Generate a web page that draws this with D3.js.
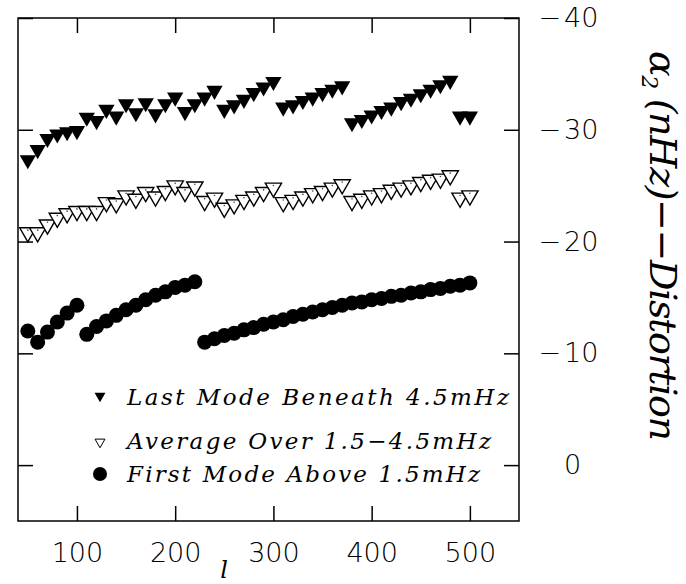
<!DOCTYPE html>
<html>
<head>
<meta charset="utf-8">
<script src="https://cdn.jsdelivr.net/npm/d3@7"></script>
<style>
  html, body { margin: 0; padding: 0; background: #fff; }
  svg { display: block; }
</style>
</head>
<body>
<svg id="chart" width="686" height="584"></svg>
<script>
// degree l for the triangle series
const lTri = [50, 60, 70, 80, 90, 100, 110, 120, 130, 140, 150, 160, 170, 180, 190, 200,
  210, 220, 230, 240, 250, 260, 270, 280, 290, 300, 310, 320, 330, 340, 350, 360, 370,
  380, 390, 400, 410, 420, 430, 440, 450, 460, 470, 480, 490, 500];

const lastMode = [-27.1, -28.0, -29.0, -29.4, -29.6, -29.7, -30.9, -30.6, -31.6, -31.0,
  -32.1, -31.3, -32.2, -31.2, -32.1, -32.7, -31.4, -32.1, -32.7, -33.3, -31.6, -32.0,
  -32.5, -33.1, -33.6, -34.1, -31.8, -32.0, -32.4, -32.7, -33.1, -33.4, -33.7, -30.4,
  -30.7, -31.1, -31.5, -31.8, -32.3, -32.6, -33.0, -33.4, -33.8, -34.2, -31.0, -31.0];

const average = [-20.6, -20.6, -21.3, -21.9, -22.3, -22.5, -22.5, -22.5, -23.3, -23.2,
  -23.9, -23.6, -24.2, -23.8, -24.3, -24.8, -24.2, -24.7, -23.4, -23.7, -22.8, -23.1,
  -23.5, -23.8, -24.2, -24.6, -23.3, -23.5, -23.8, -24.1, -24.3, -24.6, -24.9, -23.4,
  -23.6, -23.9, -24.1, -24.4, -24.6, -24.8, -25.1, -25.3, -25.4, -25.7, -23.7, -23.9];

const lFirst = [50, 60, 70, 80, 90, 100, 110, 120, 130, 140, 150, 160, 170, 180, 190,
  200, 210, 220, 230, 240, 250, 260, 270, 280, 290, 300, 310, 320, 330, 340, 350, 360,
  370, 380, 390, 400, 410, 420, 430, 440, 450, 460, 470, 480, 490, 500];

const firstMode = [-12.0, -11.0, -11.9, -12.8, -13.6, -14.3, -11.7, -12.4, -12.9, -13.4,
  -13.9, -14.3, -14.8, -15.2, -15.5, -15.9, -16.1, -16.4, -11.0, -11.3, -11.6, -11.8,
  -12.1, -12.3, -12.6, -12.8, -13.0, -13.3, -13.5, -13.7, -13.9, -14.1, -14.3, -14.5,
  -14.6, -14.8, -14.9, -15.1, -15.2, -15.4, -15.5, -15.7, -15.8, -16.0, -16.1, -16.3];

const xTicks = [100, 200, 300, 400, 500];
const yTicks = [-40, -30, -20, -10, 0];

const legendLabels = [
  'Last Mode Beneath 4.5mHz',
  'Average Over 1.5\u22124.5mHz',
  'First Mode Above 1.5mHz'
];

const svg = d3.select('#chart');
const plotL = 18, plotT = 18, plotR = 519, plotB = 521;

const x = d3.scaleLinear().domain([40, 550]).range([plotL, plotR]);
const y = d3.scaleLinear().domain([5, -40]).range([plotB, plotT]);

const tickFont = '"DejaVu Sans", sans-serif';
const serif = '"DejaVu Serif", "Liberation Serif", serif';

// inward ticks on all four sides
function styleAxis(g) {
  g.select('.domain').remove();
  g.selectAll('.tick line').attr('stroke', '#000').attr('stroke-width', 1.5);
  g.attr('font-family', tickFont).attr('font-size', 27).attr('font-weight', 200);
  g.selectAll('.tick text').attr('fill', '#000');
}

svg.append('g')
  .attr('transform', `translate(0,${plotB})`)
  .call(d3.axisBottom(x).tickValues(xTicks).tickSize(-15).tickPadding(22).tickFormat(d3.format('d')))
  .call(styleAxis);

svg.append('g')
  .attr('transform', `translate(0,${plotT})`)
  .call(d3.axisTop(x).tickValues(xTicks).tickSize(-15).tickFormat(''))
  .call(styleAxis);

svg.append('g')
  .attr('transform', `translate(${plotL},0)`)
  .call(d3.axisLeft(y).tickValues(yTicks).tickSize(-15).tickFormat(''))
  .call(styleAxis);

const rightAxis = svg.append('g')
  .attr('transform', `translate(${plotR},0)`)
  .call(d3.axisRight(y).tickValues(yTicks).tickSize(-15).tickPadding(45).tickFormat(d => Math.abs(d)))
  .call(styleAxis);

// minus signs hang to the left of the digits
rightAxis.selectAll('.tick').filter(d => d < 0)
  .append('text')
  .attr('x', 42)
  .attr('dy', '0.32em')
  .attr('text-anchor', 'end')
  .attr('fill', '#000')
  .text('\u2212');

svg.append('rect')
  .attr('x', plotL).attr('y', plotT)
  .attr('width', plotR - plotL).attr('height', plotB - plotT)
  .attr('fill', 'none').attr('stroke', '#000').attr('stroke-width', 1.5);

// markers
const triSize = 115;
const triPath = d3.symbol(d3.symbolTriangle, triSize)();
const triOff = Math.sqrt(triSize / (Math.sqrt(3) * 3)) / 2; // bbox-centre shift

svg.append('g').selectAll('circle')
  .data(lFirst.map((l, i) => [l, firstMode[i]]))
  .join('circle')
  .attr('cx', d => x(d[0]))
  .attr('cy', d => y(d[1]))
  .attr('r', 7.5)
  .attr('fill', '#000');

const avg = svg.append('g').selectAll('g')
  .data(lTri.map((l, i) => [l, average[i]]))
  .join('g')
  .attr('transform', d => `translate(${x(d[0])},${y(d[1]) - triOff}) rotate(180)`);
avg.append('path')
  .attr('d', triPath)
  .attr('fill', '#fff').attr('stroke', '#000').attr('stroke-width', 1.4);
avg.append('circle').attr('r', 0.8).attr('cy', triOff).attr('fill', '#444');

svg.append('g').selectAll('path')
  .data(lTri.map((l, i) => [l, lastMode[i]]))
  .join('path')
  .attr('transform', d => `translate(${x(d[0])},${y(d[1]) - triOff}) rotate(180)`)
  .attr('d', triPath)
  .attr('fill', '#000');

// legend
const legend = svg.append('g');
const legendRows = [
  { ty: 405, my: 397, len: 382 },
  { ty: 449, my: 443, len: 364 },
  { ty: 482, my: 474, len: 353 }
];
legend.append('path')
  .attr('transform', `translate(100,${legendRows[0].my - 1}) rotate(180)`)
  .attr('d', d3.symbol(d3.symbolTriangle, 52)())
  .attr('fill', '#000');
legend.append('path')
  .attr('transform', `translate(100,${legendRows[1].my - 1}) rotate(180)`)
  .attr('d', d3.symbol(d3.symbolTriangle, 43)())
  .attr('fill', '#fff').attr('stroke', '#000').attr('stroke-width', 1);
legend.append('circle')
  .attr('cx', 100).attr('cy', legendRows[2].my).attr('r', 7).attr('fill', '#000');

legend.selectAll('text')
  .data(legendLabels)
  .join('text')
  .attr('x', 127)
  .attr('y', (d, i) => legendRows[i].ty)
  .attr('textLength', (d, i) => legendRows[i].len)
  .attr('lengthAdjust', 'spacing')
  .attr('font-family', serif)
  .attr('font-style', 'italic')
  .attr('font-size', 23)
  .attr('fill', '#000')
  .text(d => d);

// axis titles
svg.append('text')
  .attr('x', 224).attr('y', 578)
  .attr('text-anchor', 'middle')
  .attr('font-family', serif)
  .attr('font-style', 'italic')
  .attr('font-size', 24)
  .text('l');

const yTitle = svg.append('text')
  .attr('transform', 'translate(650,246) rotate(90)')
  .attr('text-anchor', 'middle')
  .attr('font-family', serif)
  .attr('font-style', 'italic')
  .attr('font-size', 38)
  .attr('textLength', 390)
  .attr('lengthAdjust', 'spacing');
yTitle.append('tspan').text('\u03b1');
yTitle.append('tspan').attr('font-size', 22).attr('dy', 8).text('2');
yTitle.append('tspan').attr('dy', -8).text(' (nHz)\u2212\u2212Distortion');
</script>
</body>
</html>
